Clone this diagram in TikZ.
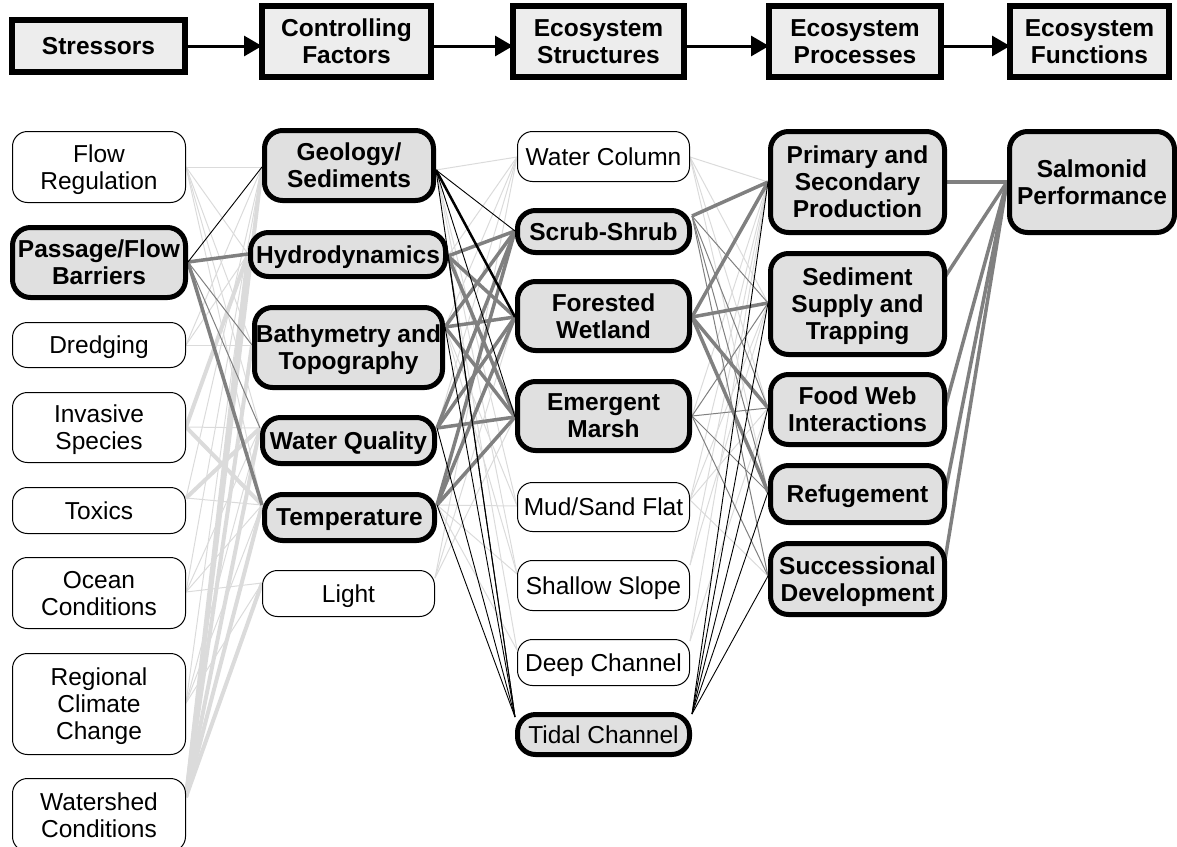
\documentclass[tikz,border=0pt]{standalone}
\usepackage{fontspec}
\setmainfont{Liberation Sans}
\usetikzlibrary{arrows.meta}
\begin{document}
\begin{tikzpicture}[x=1pt,y=-1pt,
  txt/.style={font=\fontsize{24.5}{27}\selectfont, align=center, inner sep=0pt, outer sep=0pt, text depth=-3pt},
  thinbox/.style={txt, draw=black, line width=1pt, fill=white, rounded corners=15pt},
  thickbox/.style={txt, draw=black, line width=5pt, fill=black!12, rounded corners=18pt, font=\fontsize{24.5}{27}\selectfont\bfseries},
  headbox/.style={txt, draw=black, line width=6pt, fill=black!7, font=\fontsize{24.5}{27}\selectfont\bfseries},
  headarrow/.style={draw=black, line width=3pt, -{Triangle[length=18pt,width=20pt]}},
  lg/.style={draw=black!14, line width=1pt},
  lgt/.style={draw=black!14, line width=4pt},
  mg/.style={draw=black!50, line width=1pt},
  mgt/.style={draw=black!50, line width=3.5pt},
  kk/.style={draw=black, line width=0.9pt},
  kkt/.style={draw=black, line width=2.5pt}]
\useasboundingbox (0,0) rectangle (1177,846);

% ---------- anchor coordinates ----------
% stressors (right side)
\coordinate (FRr) at (186,167);
\coordinate (PFBr) at (188,262);
\coordinate (Drr) at (186,345);
\coordinate (Invr) at (186,427);
\coordinate (Toxr) at (186,498);
\coordinate (Ocr) at (186,592);
\coordinate (RCr) at (186,703);
\coordinate (WSr) at (186,797);
% controlling factors
\coordinate (Geol) at (262,167);
\coordinate (Hydl) at (248,254);
\coordinate (Batl) at (252,345);
\coordinate (WQl) at (260,428);
\coordinate (Templ) at (262,505);
\coordinate (Lightl) at (262,583);
\coordinate (Geor) at (436,170);
\coordinate (Hydr) at (448,256);
\coordinate (Batr) at (445,327);
\coordinate (WQr) at (437,428);
\coordinate (Tempr) at (437,505);
\coordinate (Lightr) at (435,578);
% structures
\coordinate (WCl) at (517,157);
\coordinate (SSl) at (515,231);
\coordinate (FWl) at (515,317);
\coordinate (EMl) at (515,417);
\coordinate (MSl) at (517,506);
\coordinate (SLl) at (517,574);
\coordinate (DCl) at (517,650);
\coordinate (TCl) at (515,717);
\coordinate (WCr) at (690,157);
\coordinate (SSr) at (692,216);
\coordinate (FWr) at (692,317);
\coordinate (EMr) at (692,416);
\coordinate (MSr) at (690,500);
\coordinate (SLr) at (690,565);
\coordinate (DCr) at (690,641);
\coordinate (TCr) at (692,714);
% processes
\coordinate (Pl) at (768,182);
\coordinate (Sedl) at (768,303);
\coordinate (FWIl) at (768,408);
\coordinate (Refl) at (768,492);
\coordinate (Succl) at (768,576);
\coordinate (Pr) at (947,182);
\coordinate (Sedr) at (945,277);
\coordinate (FWIr) at (945,408);
\coordinate (Refr) at (945,493);
\coordinate (Succr) at (945,560);
% functions
\coordinate (Sall) at (1007,182);

% ---------- connectors: light gray ----------
\foreach \a/\b in {FRr/Geol, FRr/Hydl, FRr/Batl, FRr/WQl, FRr/Templ,
  Drr/Geol, Drr/Hydl, Drr/Batl, Invr/WQl, Toxr/Geol, Toxr/Templ,
  Ocr/Lightl, Ocr/Templ, Ocr/WQl, Ocr/Geol,
  RCr/Lightl, RCr/Templ, RCr/WQl, RCr/Hydl,
  Geor/WCl, Hydr/WCl, Batr/WCl, WQr/WCl, Lightr/WCl, Lightr/FWl, Lightr/EMl,
  Batr/MSl, Geor/MSl, Geor/SLl, Batr/SLl, Hydr/DCl,
  Tempr/MSl, Tempr/SLl, Tempr/DCl,
  WCr/Pl, WCr/Sedl, WCr/FWIl, WCr/Refl, EMr/Pl,
  MSr/Pl, MSr/Sedl, MSr/Succl, MSr/FWIl, SLr/Pl, SLr/Sedl, DCr/FWIl, DCr/Pl}
  \draw[lg] (\a) -- (\b);
\foreach \a/\b in {Invr/Templ, Invr/Hydl, Toxr/WQl,
  WSr/Geol, WSr/Hydl, WSr/Batl, WSr/WQl, WSr/Templ, WSr/Lightl}
  \draw[lgt] (\a) -- (\b);
% ---------- connectors: medium gray ----------
\foreach \a/\b in {PFBr/Batl, PFBr/WQl,
  SSr/Sedl, SSr/FWIl, SSr/Refl, SSr/Succl,
  EMr/Sedl, EMr/FWIl, EMr/Refl, EMr/Succl}
  \draw[mg] (\a) -- (\b);
\foreach \a/\b in {PFBr/Hydl, PFBr/Templ,
  Hydr/SSl, Hydr/FWl, Hydr/EMl, Batr/SSl, Batr/FWl, Batr/EMl,
  WQr/SSl, WQr/FWl, WQr/EMl, Tempr/SSl, Tempr/FWl, Tempr/EMl,
  SSr/Pl, FWr/Pl, FWr/Sedl, FWr/FWIl, FWr/Refl,
  Pr/Sall, Sedr/Sall, FWIr/Sall, Refr/Sall, Succr/Sall}
  \draw[mgt] (\a) -- (\b);
% ---------- connectors: black ----------
\foreach \a/\b in {PFBr/Geol, Geor/SSl, Geor/EMl, Geor/TCl, Hydr/TCl, Batr/TCl,
  WQr/TCl, Tempr/TCl,
  TCr/Pl, TCr/Sedl, TCr/FWIl, TCr/Refl, TCr/Succl}
  \draw[kk] (\a) -- (\b);
\draw[kkt] (Geor) -- (FWl);

% ---------- header ----------
\node[headbox, minimum width=173pt, minimum height=52pt] (hS) at (98.5,46) {Stressors};
\node[headbox, minimum width=169pt, minimum height=71pt] (hC) at (346.5,41.5) {Controlling\\Factors};
\node[headbox, minimum width=171pt, minimum height=71pt] (hT) at (598.5,41.5) {Ecosystem\\Structures};
\node[headbox, minimum width=172pt, minimum height=71pt] (hP) at (855,41.5) {Ecosystem\\Processes};
\node[headbox, minimum width=159pt, minimum height=71pt] (hF) at (1089.5,41.5) {Ecosystem\\Functions};
\draw[headarrow] (hS.east) -- (hC.west |- hS.east);
\draw[headarrow] (hC.east |- hS.east) -- (hT.west |- hS.east);
\draw[headarrow] (hT.east |- hS.east) -- (hP.west |- hS.east);
\draw[headarrow] (hP.east |- hS.east) -- (hF.west |- hS.east);

% ---------- stressors ----------
\node[thinbox, minimum width=173pt, minimum height=71pt] (FR) at (99,167) {Flow\\Regulation};
\node[thickbox, minimum width=173pt, minimum height=70pt] (PFB) at (99,262.5) {Passage/Flow\\Barriers};
\node[thinbox, minimum width=173pt, minimum height=45pt] (Dr) at (99,345) {Dredging};
\node[thinbox, minimum width=173pt, minimum height=70pt] (Inv) at (99,427.5) {Invasive\\Species};
\node[thinbox, minimum width=173pt, minimum height=46pt] (Tox) at (99,510.5) {Toxics};
\node[thinbox, minimum width=173pt, minimum height=71pt] (Oc) at (99,593) {Ocean\\Conditions};
\node[thinbox, minimum width=173pt, minimum height=101pt] (RC) at (99,704) {Regional\\Climate\\Change};
\node[thinbox, minimum width=173pt, minimum height=73pt] (WS) at (99,815) {Watershed\\Conditions};

% ---------- controlling factors ----------
\node[thickbox, minimum width=169pt, minimum height=70pt] (Geo) at (349,165.5) {Geology/\\Sediments};
\node[thickbox, minimum width=195pt, minimum height=44pt] (Hyd) at (348,254.5) {Hydrodynamics};
\node[thickbox, minimum width=188pt, minimum height=80pt] (Bat) at (348.5,347.5) {Bathymetry and\\Topography};
\node[thickbox, minimum width=172pt, minimum height=46pt] (WQ) at (348.5,440.5) {Water Quality};
\node[thickbox, minimum width=170pt, minimum height=46pt] (Temp) at (349.5,517.5) {Temperature};
\node[thinbox, minimum width=172pt, minimum height=46pt] (Light) at (348.5,593.5) {Light};

% ---------- structures ----------
\node[thinbox, minimum width=172pt, minimum height=50pt] (WC) at (603.5,156.5) {Water Column};
\node[thickbox, minimum width=172pt, minimum height=42pt] (SS) at (603.5,231.5) {Scrub-Shrub};
\node[thickbox, minimum width=172pt, minimum height=69pt] (FW) at (603.5,316) {Forested\\Wetland};
\node[thickbox, minimum width=172pt, minimum height=69pt] (EM) at (603.5,416) {Emergent\\Marsh};
\node[thinbox, minimum width=172pt, minimum height=49pt] (MS) at (603.5,507) {Mud/Sand Flat};
\node[thinbox, minimum width=172pt, minimum height=50pt] (SL) at (603.5,585.5) {Shallow Slope};
\node[thinbox, minimum width=172pt, minimum height=46pt] (DC) at (603.5,662.5) {Deep Channel};
\node[thickbox, font=\fontsize{24.5}{27}\selectfont\mdseries, minimum width=172pt, minimum height=40pt] (TC) at (603.5,734.5) {Tidal Channel};

% ---------- processes ----------
\node[thickbox, minimum width=174pt, minimum height=101pt] (P) at (857.5,182) {Primary and\\Secondary\\Production};
\node[thickbox, minimum width=174pt, minimum height=101pt] (Sed) at (857.5,304) {Sediment\\Supply and\\Trapping};
\node[thickbox, minimum width=174pt, minimum height=70pt] (FWI) at (857.5,409.5) {Food Web\\Interactions};
\node[thickbox, minimum width=174pt, minimum height=57pt] (Ref) at (857.5,494) {Refugement};
\node[thickbox, minimum width=174pt, minimum height=71pt] (Succ) at (857.5,579) {Successional\\Development};

% ---------- functions ----------
\node[thickbox, minimum width=165pt, minimum height=101pt] (Sal) at (1092,182) {Salmonid\\Performance};
\end{tikzpicture}
\end{document}
